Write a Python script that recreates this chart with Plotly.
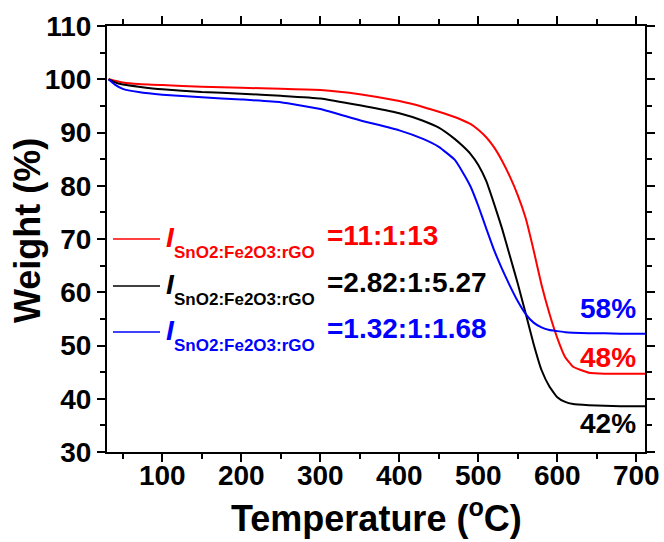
import plotly.graph_objects as go

# ---------------- data ----------------
temperature = [32, 40, 50, 70, 100, 150, 200, 250, 300, 350, 400, 430, 450, 470, 480, 490,
               500, 510, 520, 530, 540, 550, 560, 570, 580, 590, 600, 610, 620, 640,
               660, 680, 700, 711]
weight_red = [100.0, 99.7, 99.4, 99.1, 98.9, 98.6, 98.4, 98.2, 98.0, 97.2, 95.9, 94.8, 93.9,
              92.9, 92.3, 91.6, 90.5, 89.1, 87.2, 84.7, 81.7, 78.2, 73.9, 67.9, 61.4, 56.0,
              51.4, 47.8, 46.0, 44.9, 44.7, 44.7, 44.7, 44.7]
weight_black = [100.0, 99.4, 99.0, 98.6, 98.1, 97.6, 97.3, 96.9, 96.4, 95.1, 93.6, 92.2, 90.9,
                88.8, 87.5, 86.0, 83.9, 80.9, 76.6, 72.0, 66.8, 61.6, 56.0, 50.3, 45.4, 42.3,
                40.3, 39.4, 39.0, 38.8, 38.7, 38.6, 38.6, 38.6]
weight_blue = [100.0, 99.0, 98.2, 97.6, 97.1, 96.6, 96.2, 95.7, 94.4, 92.3, 90.4, 88.8, 87.3,
               84.9, 82.6, 79.9, 76.2, 72.0, 67.9, 64.4, 61.2, 58.3, 55.9, 54.3, 53.4, 52.9,
               52.7, 52.5, 52.4, 52.3, 52.3, 52.2, 52.2, 52.2]

series_colors = ["#FF0000", "#000000", "#0000FF"]
series_ratios = ["=11:1:13", "=2.82:1:5.27", "=1.32:1:1.68"]
x_ticks = [100, 200, 300, 400, 500, 600, 700]
y_ticks = [30, 40, 50, 60, 70, 80, 90, 100, 110]

FONT = "Liberation Sans, Arial, sans-serif"
W, H = 664, 542
L, R, T, B = 107, 645, 26, 452  # plot area in pixels


def px(x):
    return (x - L) / (R - L)


def py(y):
    return (B - y) / (B - T)


fig = go.Figure()
for ys, c in zip([weight_red, weight_black, weight_blue], series_colors):
    fig.add_trace(go.Scatter(x=temperature, y=ys, mode="lines",
                             line=dict(color=c, width=2, shape="spline", smoothing=0.4),
                             showlegend=False, hoverinfo="skip"))

annotations = []
shapes = []
row_y = [239, 286, 332]
for i, (c, r) in enumerate(zip(series_colors, series_ratios)):
    yy = row_y[i]
    shapes.append(dict(type="line", xref="paper", yref="paper",
                       x0=px(113), x1=px(160), y0=py(yy), y1=py(yy),
                       line=dict(color=c, width=1.5)))
    annotations.append(dict(text="<i>I</i>", xref="paper", yref="paper",
                            x=px(164), y=py(yy - 2), xanchor="left", yanchor="middle",
                            showarrow=False,
                            font=dict(family=FONT, size=28, color=c, weight="bold")))
    annotations.append(dict(text="SnO2:Fe2O3:rGO", xref="paper", yref="paper",
                            x=px(172), y=py(yy + 13), xanchor="left", yanchor="middle",
                            showarrow=False,
                            font=dict(family=FONT, size=17, color=c, weight="bold")))
    annotations.append(dict(text=r, xref="paper", yref="paper",
                            x=px(325), y=py(yy - 4), xanchor="left", yanchor="middle",
                            showarrow=False,
                            font=dict(family=FONT, size=28, color=c, weight="bold")))

for lab, c, yy in zip(["58%", "48%", "42%"], ["#0000FF", "#FF0000", "#000000"], [308, 357, 423]):
    annotations.append(dict(text=lab, xref="paper", yref="paper",
                            x=px(638), y=py(yy), xanchor="right", yanchor="middle",
                            showarrow=False,
                            font=dict(family=FONT, size=28, color=c, weight="bold")))

annotations.append(dict(text="Weight (%)", xref="paper", yref="paper",
                        x=px(28), y=py(231), xanchor="center", yanchor="middle",
                        textangle=-90, showarrow=False,
                        font=dict(family=FONT, size=36, color="black", weight="bold")))
annotations.append(dict(text="Temperature (<sup>o</sup>C)", xref="paper", yref="paper",
                        x=px(376), y=py(516), xanchor="center", yanchor="middle",
                        showarrow=False,
                        font=dict(family=FONT, size=36, color="black", weight="bold")))

axis_common = dict(showline=True, linecolor="black", linewidth=2, mirror="ticks",
                   ticks="outside", ticklen=8, tickwidth=2, tickcolor="black",
                   showgrid=False, zeroline=False, automargin=False,
                   tickfont=dict(family=FONT, size=28, color="black", weight="bold"))

fig.update_layout(
    width=W, height=H,
    margin=dict(l=L, r=W - R, t=T, b=H - B),
    paper_bgcolor="white", plot_bgcolor="white",
    xaxis=dict(range=[30, 711], tickvals=x_ticks, ticklabelstandoff=-11,
               minor=dict(dtick=50, tick0=0, ticks="outside", ticklen=5, tickwidth=2,
                          tickcolor="black", showgrid=False),
               **axis_common),
    yaxis=dict(range=[30, 110], tickvals=y_ticks,
               minor=dict(dtick=5, tick0=0, ticks="outside", ticklen=5, tickwidth=2,
                          tickcolor="black", showgrid=False),
               **axis_common),
    annotations=annotations,
    shapes=shapes,
)

fig.write_html("out.html")
